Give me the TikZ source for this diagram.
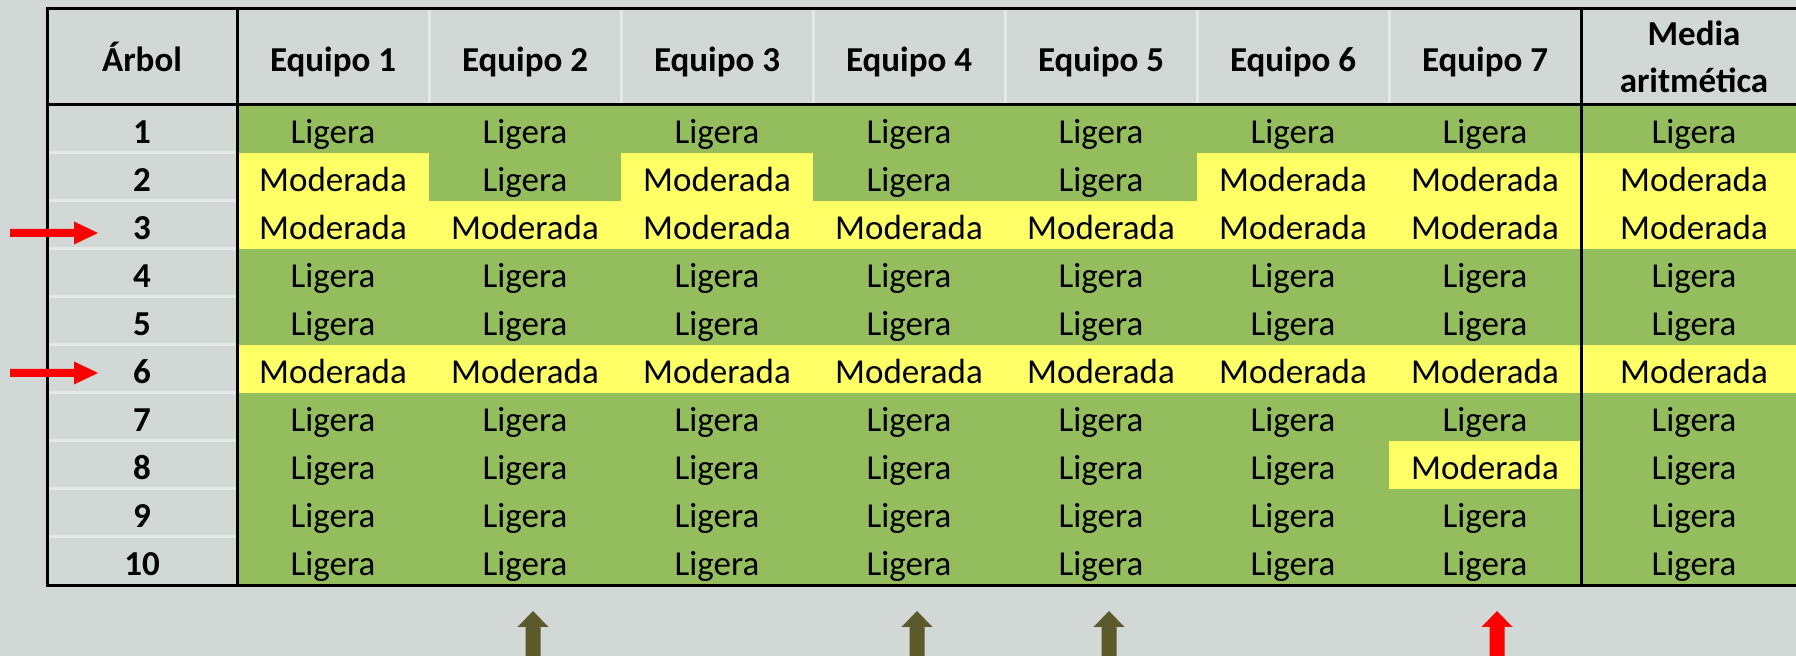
\documentclass[tikz,border=0pt]{standalone}
\usepackage{fontspec}
\setmainfont{Carlito}
\definecolor{bg}{HTML}{D1D8D5}
\definecolor{colL}{HTML}{94BD5E}
\definecolor{colM}{HTML}{FFFF66}
\definecolor{sep}{HTML}{E6E9E8}
\definecolor{olive}{HTML}{5C5A2B}
\definecolor{redarr}{HTML}{FF0000}
\def\txtL{Ligera}
\def\txtM{Moderada}
\begin{document}
\begin{tikzpicture}[x=0.5pt,y=-0.5pt,
  txt/.style={font=\fontsize{17.5}{21}\selectfont, inner sep=0pt, outer sep=0pt,
    text height=19.25pt, text depth=4.75pt, minimum height=24pt},
  datacell/.style={txt},
  numcell/.style={txt, font=\fontsize{17.5}{21}\selectfont\bfseries, minimum width=95pt},
  hdr/.style={font=\fontsize{17.5}{21}\selectfont\bfseries, inner sep=0pt, anchor=base},
  border/.style={line width=1.5pt, black},
  thin/.style={line width=1.5pt, sep},
  redmark/.style={fill=redarr},
  olivemark/.style={fill=olive}]
\useasboundingbox (0,0) rectangle (1796,656);
\fill[bg] (0,0) rectangle (1796,656);

% data rows
\foreach \r/\vals in {1/{L,L,L,L,L,L,L,L},2/{M,L,M,L,L,M,M,M},3/{M,M,M,M,M,M,M,M},
  4/{L,L,L,L,L,L,L,L},5/{L,L,L,L,L,L,L,L},6/{M,M,M,M,M,M,M,M},7/{L,L,L,L,L,L,L,L},
  8/{L,L,L,L,L,L,M,L},9/{L,L,L,L,L,L,L,L},10/{L,L,L,L,L,L,L,L}}{
  \pgfmathsetmacro\cy{105+48*(\r-1)+24}
  \node[numcell] (n\r) at (142,\cy) {\r};
  \foreach \v [count=\c] in \vals {
    \pgfmathsetmacro\cx{\c<8 ? 237+192*(\c-0.5) : 1694}
    \pgfmathsetmacro\cw{\c<8 ? 96.5 : 113.5}
    \node[datacell, fill=col\v, minimum width=\cw pt] (c\r-\c) at (\cx,\cy) {\csname txt\v\endcsname};
  }
}

% light separators in the first column
\foreach \k in {1,...,9}
  \draw[thin] (47,{105+48*\k}) -- (237,{105+48*\k});
% light separators in the header
\foreach \k in {1,...,6}
  \draw[thin] ({237+192*\k},9) -- ({237+192*\k},105);

% header
\node[hdr] (harbol) at (142,72) {Árbol};
\foreach \c in {1,...,7}
  \node[hdr] (h\c) at ({237+192*(\c-0.5)},72) {Equipo \c};
\node[hdr] (hmedia1) at (1694,46) {Media};
\node[hdr] (hmedia2) at (1694,93) {aritmética};

% black borders
\draw[border] (1800,9) -- (47,9) -- (47,586) -- (1800,586);
\draw[border] (47,105) -- (1800,105);
\draw[border] (237,9) -- (237,586);
\draw[border] (1581,9) -- (1581,586);

% red markers at rows 3 and 6
\foreach \yy in {233,373}
  \fill[redmark] (10,{\yy-4}) -- (74,{\yy-4}) -- (74,{\yy-11.5}) -- (98,\yy)
    -- (74,{\yy+11.5}) -- (74,{\yy+4}) -- (10,{\yy+4}) -- cycle;

% bottom markers
\foreach \xx/\st in {533/olivemark,917/olivemark,1109/olivemark,1497/redmark}
  \fill[\st] ({\xx-7.5},660) -- ({\xx-7.5},627) -- ({\xx-15.5},627) -- (\xx,611)
    -- ({\xx+15.5},627) -- ({\xx+7.5},627) -- ({\xx+7.5},660) -- cycle;
\end{tikzpicture}
\end{document}
